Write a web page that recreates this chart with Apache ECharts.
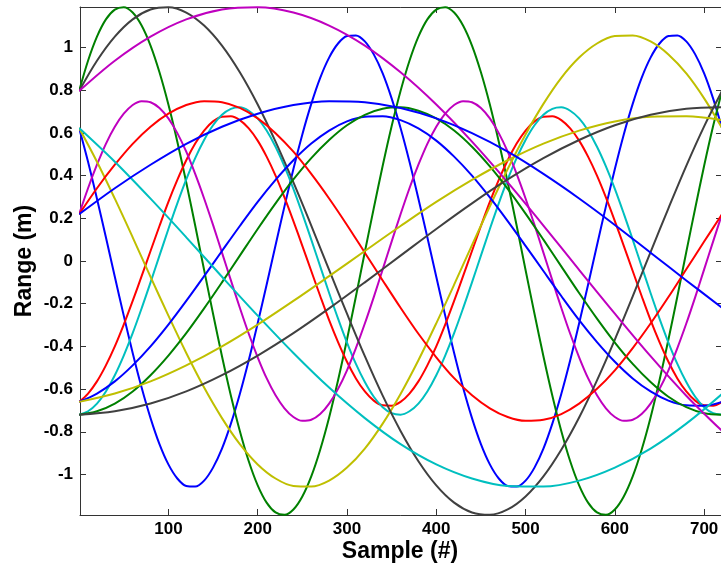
<!DOCTYPE html>
<html>
<head>
<meta charset="utf-8">
<script src="https://cdn.jsdelivr.net/npm/echarts@6/dist/echarts.min.js"></script>
<style>
  html, body { margin: 0; padding: 0; background: #fff; }
  #chart { width: 721px; height: 572px; }
</style>
</head>
<body>
<div id="chart"></div>
<script>
// Sample positions (#)
var sample10 = [0,10,20,30,40,50,60,70,80,90,100,110,120,130,140,150,160,170,180,190,200,210,220,230,240,250,260,270,280,290,300,310,320,330,340,350,360,370,380,390,400,410,420,430,440,450,460,470,480,490,500,510,520,530,540,550,560,570,580,590,600,610,620,630,640,650,660,670,680,690,700,710,720];
var sample20 = [0,20,40,60,80,100,120,140,160,180,200,220,240,260,280,300,320,340,360,380,400,420,440,460,480,500,520,540,560,580,600,620,640,660,680,700,720];
var sample40 = [0,40,80,120,160,200,240,280,320,360,400,440,480,520,560,600,640,680,720];

// Tick labels
var xTicks = [100,200,300,400,500,600,700];
var yTicks = [-1,-0.8,-0.6,-0.4,-0.2,0,0.2,0.4,0.6,0.8,1];

// Range values (m)
var blue1 = [0.623,0.465,0.292,0.111,-0.074,-0.256,-0.431,-0.593,-0.736,-0.858,-0.953,-1.019,-1.054,-1.057,-1.029,-0.968,-0.879,-0.762,-0.623,-0.465,-0.292,-0.111,0.074,0.256,0.431,0.593,0.736,0.858,0.953,1.019,1.054,1.057,1.029,0.968,0.879,0.762,
             0.623,0.465,0.292,0.111,-0.074,-0.256,-0.431,-0.593,-0.736,-0.858,-0.953,-1.019,-1.054,-1.057,-1.029,-0.968,-0.879,-0.762,-0.623,-0.465,-0.292,-0.111,0.074,0.256,0.431,0.593,0.736,0.858,0.953,1.019,1.054,1.057,1.029,0.968,0.879,0.762,
             0.623];
var green1 = [0.796,0.938,1.051,1.132,1.178,1.189,1.164,1.103,1.009,0.884,0.733,0.559,0.368,0.166,-0.042,-0.247,-0.446,-0.631,-0.796,-0.938,-1.051,-1.132,-1.178,-1.189,-1.164,-1.103,-1.009,-0.884,-0.733,-0.559,-0.368,-0.166,0.042,0.247,0.446,0.631,
              0.796,0.938,1.051,1.132,1.178,1.189,1.164,1.103,1.009,0.884,0.733,0.559,0.368,0.166,-0.042,-0.247,-0.446,-0.631,-0.796,-0.938,-1.051,-1.132,-1.178,-1.189,-1.164,-1.103,-1.009,-0.884,-0.733,-0.559,-0.368,-0.166,0.042,0.247,0.446,0.631,
              0.796];
var red1 = [-0.660,-0.621,-0.564,-0.489,-0.400,-0.298,-0.187,-0.071,0.047,0.164,0.277,0.380,0.472,0.550,0.611,0.654,0.676,0.678,0.660,0.621,0.564,0.489,0.400,0.298,0.187,0.071,-0.047,-0.164,-0.277,-0.380,-0.472,-0.550,-0.611,-0.654,-0.676,-0.678,
            -0.660,-0.621,-0.564,-0.489,-0.400,-0.298,-0.187,-0.071,0.047,0.164,0.277,0.380,0.472,0.550,0.611,0.654,0.676,0.678,0.660,0.621,0.564,0.489,0.400,0.298,0.187,0.071,-0.047,-0.164,-0.277,-0.380,-0.472,-0.550,-0.611,-0.654,-0.676,-0.678,
            -0.660];
var cyan1 = [-0.720,-0.704,-0.668,-0.611,-0.535,-0.443,-0.338,-0.222,-0.100,0.025,0.150,0.270,0.382,0.482,0.567,0.636,0.685,0.713,0.720,0.704,0.668,0.611,0.535,0.443,0.338,0.222,0.100,-0.025,-0.150,-0.270,-0.382,-0.482,-0.567,-0.636,-0.685,-0.713,
             -0.720,-0.704,-0.668,-0.611,-0.535,-0.443,-0.338,-0.222,-0.100,0.025,0.150,0.270,0.382,0.482,0.567,0.636,0.685,0.713,0.720,0.704,0.668,0.611,0.535,0.443,0.338,0.222,0.100,-0.025,-0.150,-0.270,-0.382,-0.482,-0.567,-0.636,-0.685,-0.713,
             -0.720];
var magenta1 = [0.219,0.341,0.451,0.549,0.629,0.690,0.731,0.749,0.744,0.717,0.668,0.599,0.512,0.408,0.293,0.169,0.039,-0.091,-0.219,-0.341,-0.451,-0.549,-0.629,-0.690,-0.731,-0.749,-0.744,-0.717,-0.668,-0.599,-0.512,-0.408,-0.293,-0.169,-0.039,0.091,
                0.219,0.341,0.451,0.549,0.629,0.690,0.731,0.749,0.744,0.717,0.668,0.599,0.512,0.408,0.293,0.169,0.039,-0.091,-0.219,-0.341,-0.451,-0.549,-0.629,-0.690,-0.731,-0.749,-0.744,-0.717,-0.668,-0.599,-0.512,-0.408,-0.293,-0.169,-0.039,0.091,
                0.219];

var yellow1 = [0.623,0.465,0.292,0.111,-0.074,-0.256,-0.431,-0.593,-0.736,-0.858,-0.953,-1.019,-1.054,-1.057,-1.029,-0.968,-0.879,-0.762,-0.623,-0.465,-0.292,-0.111,0.074,0.256,0.431,0.593,0.736,0.858,0.953,1.019,1.054,1.057,1.029,0.968,0.879,0.762,0.623];
var black1 = [0.796,0.938,1.051,1.132,1.178,1.189,1.164,1.103,1.009,0.884,0.733,0.559,0.368,0.166,-0.042,-0.247,-0.446,-0.631,-0.796,-0.938,-1.051,-1.132,-1.178,-1.189,-1.164,-1.103,-1.009,-0.884,-0.733,-0.559,-0.368,-0.166,0.042,0.247,0.446,0.631,0.796];
var blue2 = [-0.660,-0.621,-0.564,-0.489,-0.400,-0.298,-0.187,-0.071,0.047,0.164,0.277,0.380,0.472,0.550,0.611,0.654,0.676,0.678,0.660,0.621,0.564,0.489,0.400,0.298,0.187,0.071,-0.047,-0.164,-0.277,-0.380,-0.472,-0.550,-0.611,-0.654,-0.676,-0.678,-0.660];
var green2 = [-0.720,-0.704,-0.668,-0.611,-0.535,-0.443,-0.338,-0.222,-0.100,0.025,0.150,0.270,0.382,0.482,0.567,0.636,0.685,0.713,0.720,0.704,0.668,0.611,0.535,0.443,0.338,0.222,0.100,-0.025,-0.150,-0.270,-0.382,-0.482,-0.567,-0.636,-0.685,-0.713,-0.720];
var red2 = [0.219,0.341,0.451,0.549,0.629,0.690,0.731,0.749,0.744,0.717,0.668,0.599,0.512,0.408,0.293,0.169,0.039,-0.091,-0.219,-0.341,-0.451,-0.549,-0.629,-0.690,-0.731,-0.749,-0.744,-0.717,-0.668,-0.599,-0.512,-0.408,-0.293,-0.169,-0.039,0.091,0.219];

var cyan2 = [0.623,0.465,0.292,0.111,-0.074,-0.256,-0.431,-0.593,-0.736,-0.858,-0.953,-1.019,-1.054,-1.057,-1.029,-0.968,-0.879,-0.762,-0.623];
var magenta2 = [0.796,0.938,1.051,1.132,1.178,1.189,1.164,1.103,1.009,0.884,0.733,0.559,0.368,0.166,-0.042,-0.247,-0.446,-0.631,-0.796];
var yellow2 = [-0.660,-0.621,-0.564,-0.489,-0.400,-0.298,-0.187,-0.071,0.047,0.164,0.277,0.380,0.472,0.550,0.611,0.654,0.676,0.678,0.660];
var black2 = [-0.720,-0.704,-0.668,-0.611,-0.535,-0.443,-0.338,-0.222,-0.100,0.025,0.150,0.270,0.382,0.482,0.567,0.636,0.685,0.713,0.720];
var blue3 = [0.219,0.341,0.451,0.549,0.629,0.690,0.731,0.749,0.744,0.717,0.668,0.599,0.512,0.408,0.293,0.169,0.039,-0.091,-0.219];

var C = { b:'#0000ff', g:'#008000', r:'#ff0000', c:'#00bfbf', m:'#bf00bf', y:'#bfbf00', k:'#404040' };

var seriesDefs = [
  [sample10, blue1, C.b], [sample10, green1, C.g], [sample10, red1, C.r], [sample10, cyan1, C.c], [sample10, magenta1, C.m],
  [sample20, yellow1, C.y], [sample20, black1, C.k], [sample20, blue2, C.b], [sample20, green2, C.g], [sample20, red2, C.r],
  [sample40, cyan2, C.c], [sample40, magenta2, C.m], [sample40, yellow2, C.y], [sample40, black2, C.k], [sample40, blue3, C.b]
];

function zip(xs, ys) { return xs.map(function (x, i) { return [x, ys[i]]; }); }

var FONT = '"Liberation Sans", Arial, Helvetica, sans-serif';
var axisLineStyle = { color: '#333333', width: 1 };

var chart = echarts.init(document.getElementById('chart'), null, { renderer: 'canvas' });
chart.setOption({
  animation: false,
  backgroundColor: '#ffffff',
  grid: { left: 80, top: 7, width: 642, height: 508, containLabel: false, outerBoundsMode: 'none' },
  xAxis: [{
    type: 'value', min: 1, max: 720, position: 'bottom',
    axisLine: { show: true, onZero: false, lineStyle: axisLineStyle },
    axisTick: { show: true, inside: true, length: 6, customValues: xTicks, lineStyle: axisLineStyle },
    axisLabel: { show: true, customValues: xTicks, margin: 6, color: '#000', fontFamily: FONT, fontWeight: 'bold', fontSize: 17 },
    splitLine: { show: false }
  }, {
    type: 'value', min: 1, max: 720, position: 'top',
    axisLine: { show: true, onZero: false, lineStyle: axisLineStyle },
    axisTick: { show: true, inside: true, length: 6, customValues: xTicks, lineStyle: axisLineStyle },
    axisLabel: { show: false },
    splitLine: { show: false }
  }],
  yAxis: [{
    type: 'value', min: -1.19, max: 1.19, position: 'left',
    axisLine: { show: true, onZero: false, lineStyle: axisLineStyle },
    axisTick: { show: true, inside: true, length: 6, customValues: yTicks, lineStyle: axisLineStyle },
    axisLabel: { show: true, customValues: yTicks, margin: 7, color: '#000', fontFamily: FONT, fontWeight: 'bold', fontSize: 17 },
    splitLine: { show: false }
  }, {
    type: 'value', min: -1.19, max: 1.19, position: 'right',
    axisLine: { show: true, onZero: false, lineStyle: axisLineStyle },
    axisTick: { show: true, inside: true, length: 6, customValues: yTicks, lineStyle: axisLineStyle },
    axisLabel: { show: false },
    splitLine: { show: false }
  }],
  graphic: [
    { type: 'text', x: 400, y: 552, style: { text: 'Sample (#)', fill: '#000', font: 'bold 23px ' + FONT, align: 'center', verticalAlign: 'middle' } },
    { type: 'text', x: 25, y: 261, rotation: Math.PI / 2, style: { text: 'Range (m)', fill: '#000', font: 'bold 23px ' + FONT, align: 'center', verticalAlign: 'middle' } }
  ],
  series: seriesDefs.map(function (d) {
    return {
      type: 'line', xAxisIndex: 0, yAxisIndex: 0,
      data: zip(d[0], d[1]),
      smooth: 0.34, showSymbol: false, clip: true,
      lineStyle: { color: d[2], width: 2, join: 'round' },
      itemStyle: { color: d[2] },
      emphasis: { disabled: true }
    };
  })
});
</script>
</body>
</html>
